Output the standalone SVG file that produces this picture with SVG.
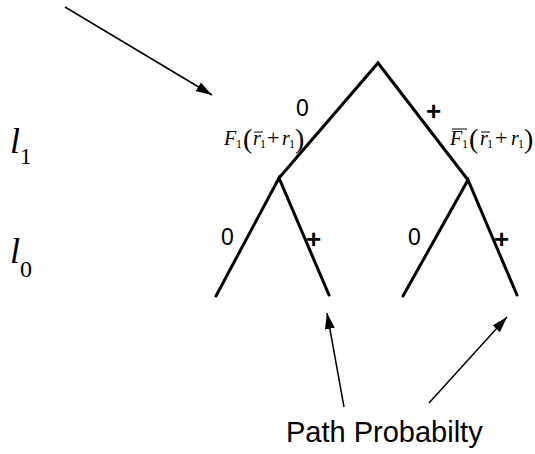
<svg xmlns="http://www.w3.org/2000/svg" width="535" height="454" viewBox="0 0 535 454">
<style>
.tree{fill:none;stroke:#000;stroke-width:3;stroke-linecap:round;stroke-linejoin:miter}
.ptr{fill:none;stroke:#000;stroke-width:1.5}
.lbl{font-family:"Liberation Sans",Arial,sans-serif;font-size:23px;fill:#000}
.pl{font-family:"Liberation Sans",Arial,sans-serif;font-size:26px;font-weight:bold;fill:#000}
.cap{font-family:"Liberation Sans",Arial,sans-serif;font-size:29px;fill:#000}
.m{font-family:"Liberation Serif","Times New Roman",serif;fill:#000}
.it{font-style:italic}
.ov{stroke:#000;stroke-width:1}
</style>
<defs>
<marker id="ah" markerUnits="userSpaceOnUse" markerWidth="16" markerHeight="10" refX="16" refY="5" orient="auto">
<path d="M0,0 L16,5 L0,10 z" fill="#000"/>
</marker>
</defs>
<g id="connectors">
<polyline class="tree" points="279,178 378,63 468,180"/>
<polyline class="tree" points="216,296 279,178 329,295"/>
<polyline class="tree" points="403,296 468,180 517,295"/>
<line class="ptr" x1="65" y1="7" x2="212" y2="95" marker-end="url(#ah)"/>
<line class="ptr" x1="344" y1="407" x2="327" y2="313" marker-end="url(#ah)"/>
<line class="ptr" x1="429" y1="403" x2="507" y2="317" marker-end="url(#ah)"/>
</g>
<g id="edge-labels">
<text class="lbl" x="296" y="116">0</text>
<text class="pl" x="426" y="120">+</text>
<text class="lbl" x="221" y="245">0</text>
<text class="pl" x="306" y="248">+</text>
<text class="lbl" x="408" y="245">0</text>
<text class="pl" x="494" y="248">+</text>
</g>
<g id="level-l1">
<text class="m it" x="10" y="153" font-size="36">l</text>
<text class="m" x="20" y="164" font-size="23">1</text>
</g>
<g id="level-l0">
<text class="m it" x="10" y="263" font-size="36">l</text>
<text class="m" x="20" y="277" font-size="24">0</text>
</g>
<g id="prob-left">
<text class="m it" x="224" y="145" font-size="20">F</text>
<text class="m" x="236" y="148" font-size="12">1</text>
<text class="m" x="243" y="148" font-size="28">(</text>
<text class="m it" x="253" y="145" font-size="20">r</text>
<line class="ov" x1="254" y1="132" x2="263" y2="132"/>
<text class="m" x="260" y="148" font-size="12">1</text>
<text class="m" x="267" y="145" font-size="22">+</text>
<text class="m it" x="282" y="145" font-size="20">r</text>
<text class="m" x="289" y="148" font-size="12">1</text>
<text class="m" x="295" y="148" font-size="28">)</text>
</g>
<g id="prob-right">
<text class="m it" x="450" y="145" font-size="20">F</text>
<line class="ov" x1="452" y1="129" x2="467" y2="129"/>
<text class="m" x="462" y="148" font-size="12">1</text>
<text class="m" x="469" y="148" font-size="28">(</text>
<text class="m it" x="480" y="145" font-size="20">r</text>
<line class="ov" x1="481" y1="132" x2="490" y2="132"/>
<text class="m" x="487" y="148" font-size="12">1</text>
<text class="m" x="495" y="145" font-size="22">+</text>
<text class="m it" x="511" y="145" font-size="20">r</text>
<text class="m" x="518" y="148" font-size="12">1</text>
<text class="m" x="524" y="148" font-size="28">)</text>
</g>
<g id="caption">
<text class="cap" x="286" y="442">Path Probabilty</text>
</g>
</svg>
